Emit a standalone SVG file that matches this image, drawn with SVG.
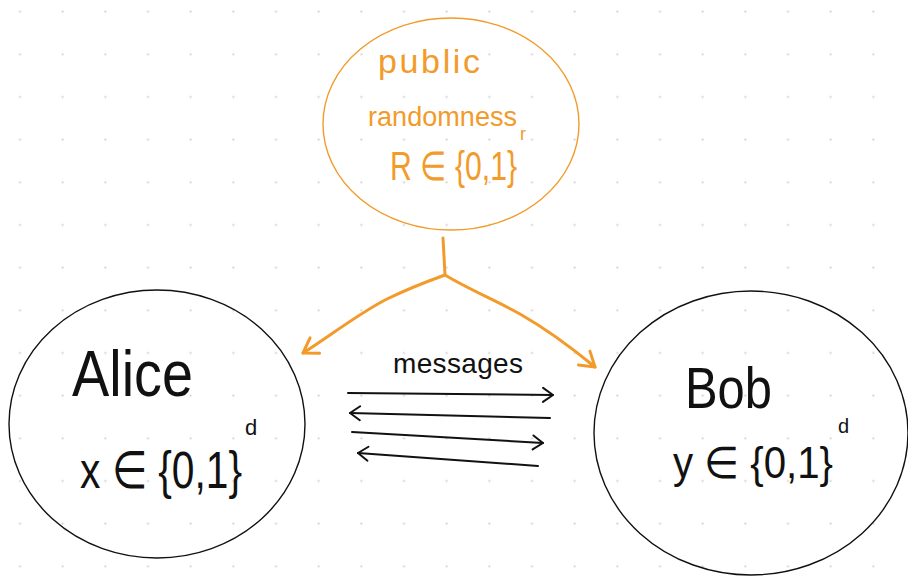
<svg xmlns="http://www.w3.org/2000/svg" width="908" height="577" viewBox="0 0 908 577">
  <style>
    .orange-ink { fill: #f29b2a; font-family: "Liberation Sans", Arial, sans-serif; }
    .black-ink { fill: #111; font-family: "Liberation Sans", Arial, sans-serif; }
    .blob-black { fill: none; stroke: #111; stroke-width: 1.4; }
    .blob-orange { fill: none; stroke: #f29b2a; stroke-width: 1.4; }
    .wire-orange { fill: none; stroke: #f29b2a; stroke-width: 3; stroke-linecap: round; stroke-linejoin: round; }
    .wire-black { fill: none; stroke: #111; stroke-width: 2; stroke-linecap: round; }
  </style>
  <defs>
    <pattern id="dots" patternUnits="userSpaceOnUse" x="-1.33" y="-9.67" width="42.667" height="42.667">
      <circle cx="21.333" cy="21.333" r="1.1" fill="#cdcdcd"/>
    </pattern>
    <marker id="head-black" markerUnits="userSpaceOnUse" markerWidth="16" markerHeight="18" viewBox="-13 -9 16 18" refX="0" refY="0" orient="auto">
      <path d="M-10,-7 L0,0 L-10,7" fill="none" stroke="#111" stroke-width="2" stroke-linecap="round" stroke-linejoin="round"/>
    </marker>
    <marker id="head-orange" markerUnits="userSpaceOnUse" markerWidth="22" markerHeight="24" viewBox="-18 -12 22 24" refX="0" refY="0" orient="auto">
      <path d="M-14,-9 L0,0 L-14,9" fill="none" stroke="#f29b2a" stroke-width="3" stroke-linecap="round" stroke-linejoin="round"/>
    </marker>
  </defs>

  <rect width="908" height="577" fill="#fff"/>
  <rect width="908" height="577" fill="url(#dots)"/>

  <g id="randomness">
    <ellipse class="blob-orange" cx="451" cy="124" rx="128" ry="106"/>
    <text class="orange-ink" x="378" y="73" font-size="34" textLength="102" lengthAdjust="spacing">public</text>
    <text class="orange-ink" x="368" y="126" font-size="27" textLength="149" lengthAdjust="spacing">randomness</text>
    <text class="orange-ink" x="390" y="180" font-size="40" textLength="127" lengthAdjust="spacingAndGlyphs">R ∈ {0,1}</text>
    <text class="orange-ink" x="520" y="140" font-size="18">r</text>
  </g>

  <g id="alice">
    <ellipse class="blob-black" cx="157" cy="424" rx="148" ry="134"/>
    <text class="black-ink" x="72" y="396" font-size="64" textLength="121" lengthAdjust="spacingAndGlyphs">Alice</text>
    <text class="black-ink" x="80" y="488" font-size="52" textLength="162" lengthAdjust="spacingAndGlyphs">x ∈ {0,1}</text>
    <text class="black-ink" x="245" y="435" font-size="22">d</text>
  </g>

  <g id="bob">
    <ellipse class="blob-black" cx="751" cy="433" rx="157" ry="142"/>
    <text class="black-ink" x="685" y="408" font-size="58" textLength="87" lengthAdjust="spacingAndGlyphs">Bob</text>
    <text class="black-ink" x="673" y="478" font-size="44" textLength="160" lengthAdjust="spacingAndGlyphs">y ∈ {0,1}</text>
    <text class="black-ink" x="838" y="433" font-size="20">d</text>
  </g>

  <g id="connectors">
    <path class="wire-orange" d="M443,238 L445,275"/>
    <path class="wire-orange" d="M445,275 C420,284 405,290 385,300 C355,316 330,336 303,353" marker-end="url(#head-orange)"/>
    <path class="wire-orange" d="M445,275 C470,290 495,300 520,314 C548,330 572,348 595,367" marker-end="url(#head-orange)"/>
    <text class="black-ink" x="393" y="373" font-size="28" textLength="130" lengthAdjust="spacing">messages</text>
    <path class="wire-black" d="M348,393 L553,395" marker-end="url(#head-black)"/>
    <path class="wire-black" d="M550,418 L350,413" marker-end="url(#head-black)"/>
    <path class="wire-black" d="M352,432 L543,443" marker-end="url(#head-black)"/>
    <path class="wire-black" d="M538,466 L358,453" marker-end="url(#head-black)"/>
  </g>
</svg>
